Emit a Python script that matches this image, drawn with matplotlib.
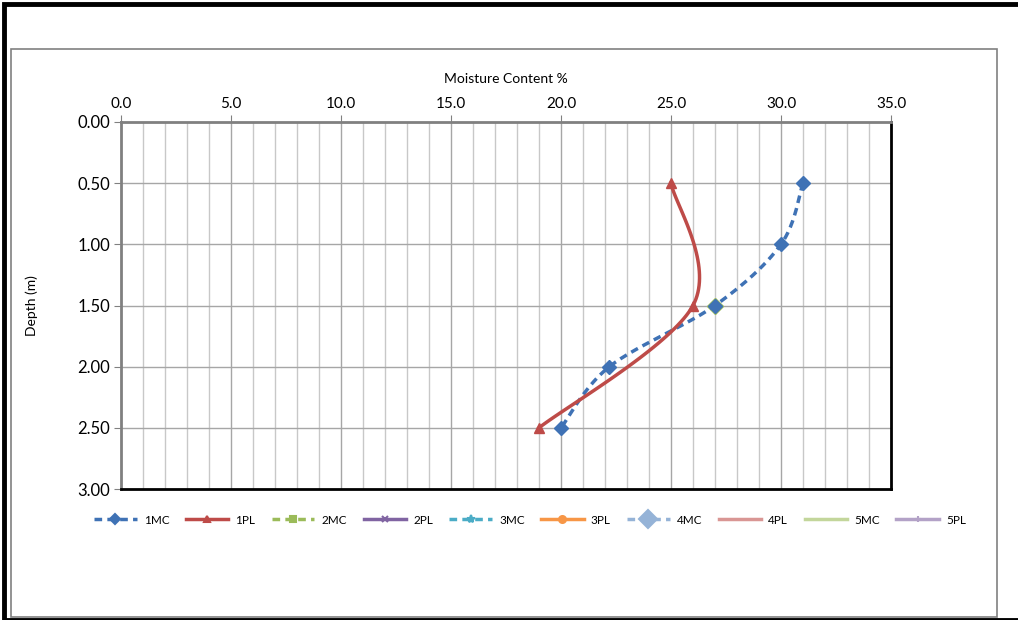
import numpy as np
import matplotlib
matplotlib.use("Agg")
import matplotlib.pyplot as plt
from matplotlib.patches import Rectangle

plt.rcParams['font.family'] = ['Lato', 'DejaVu Sans']

# data
mc1_x = [31.0, 30.0, 27.0, 22.2, 20.0]
mc1_depth = [0.5, 1.0, 1.5, 2.0, 2.5]
pl1_x = [25.0, 26.0, 19.0]
pl1_depth = [0.5, 1.5, 2.5]
mc2_x = [27.0]
mc2_depth = [1.5]

x_ticks = [0, 5, 10, 15, 20, 25, 30, 35]
y_ticks = [0, 0.5, 1.0, 1.5, 2.0, 2.5, 3.0]


def smooth(ax, xs, ys, n=40):
    # excel-like smoothing: catmull-rom in pixel space
    pts = ax.transData.transform(np.column_stack([xs, ys]))
    if len(pts) < 3:
        return xs, ys
    p = np.vstack([pts[0], pts, pts[-1]])
    out = []
    for i in range(1, len(p) - 2):
        p0, p1, p2, p3 = p[i - 1], p[i], p[i + 1], p[i + 2]
        c1 = p1 + (p2 - p0) / 6
        c2 = p2 - (p3 - p1) / 6
        t = np.linspace(0, 1, n)[:, None]
        seg = ((1 - t) ** 3) * p1 + 3 * ((1 - t) ** 2) * t * c1 + 3 * (1 - t) * t ** 2 * c2 + t ** 3 * p2
        out.append(seg if i == 1 else seg[1:])
    out = np.vstack(out)
    d = ax.transData.inverted().transform(out)
    return d[:, 0], d[:, 1]


fig = plt.figure(figsize=(10.18, 6.2), dpi=100)

# outer frames
fig.patches.append(Rectangle((4 / 1018, 0), 1.2, 1 - 4 / 620, transform=fig.transFigure,
                             fill=False, edgecolor='black', linewidth=3.5))
fig.patches.append(Rectangle((11 / 1018, 3 / 620), 986 / 1018, 568 / 620, transform=fig.transFigure,
                             fill=False, edgecolor='#808080', linewidth=1.2))

ax = fig.add_axes([121 / 1018, 1 - 489 / 620, 770 / 1018, 367 / 620])
ax.set_xlim(0, 35)
ax.set_ylim(3, 0)

# grid
for v in np.arange(1, 35, 1):
    c = '#a6a6a6' if v % 5 == 0 else '#c8c8c8'
    ax.axvline(v, color=c, linewidth=1.0, zorder=0)
for v in y_ticks[1:-1]:
    ax.axhline(v, color='#a6a6a6', linewidth=1.0, zorder=0)

ax.xaxis.tick_top()
ax.xaxis.set_label_position('top')
ax.set_xticks(x_ticks)
ax.set_xticklabels([f"{v:.1f}" for v in x_ticks], fontsize=11)
ax.set_yticks(y_ticks)
ax.set_yticklabels([f"{v:.2f}" for v in y_ticks], fontsize=12)
ax.tick_params(axis='both', direction='out', length=5, color='#808080', pad=3)
ax.set_xlabel("Moisture Content %", fontsize=10, labelpad=10)
ax.set_ylabel("Depth (m)", fontsize=10, labelpad=28)

for side in ['top', 'left']:
    ax.spines[side].set_color('#808080')
    ax.spines[side].set_linewidth(2)
for side in ['bottom', 'right']:
    ax.spines[side].set_color('black')
    ax.spines[side].set_linewidth(2)

sx, sy = smooth(ax, mc1_x, mc1_depth)
px, py = smooth(ax, pl1_x, pl1_depth)

ax.plot(mc2_x, mc2_depth, color='#9BBB59', linestyle='none', marker='D', markersize=8,
        markerfacecolor='#9BBB59', zorder=3)
ax.plot(sx, sy, color='#3F72B5', linestyle=(0, (2.2, 1.5)), linewidth=2.5, zorder=4)
ax.plot(mc1_x, mc1_depth, color='#3F72B5', linestyle='none', marker='D', markersize=7, zorder=5)
ax.plot(px, py, color='#BE4B48', linewidth=2.5, zorder=4)
ax.plot(pl1_x, pl1_depth, color='#BE4B48', linestyle='none', marker='^', markersize=7, zorder=5)

# legend handles
series = [
    ("1MC", '#3F72B5', (0, (2.2, 1.5)), 'D', 5),
    ("1PL", '#BE4B48', '-', '^', 5),
    ("2MC", '#9BBB59', (0, (2.2, 1.5)), 's', 5),
    ("2PL", '#8064A2', '-', 'x', 5),
    ("3MC", '#4BACC6', (0, (2.2, 1.5)), '*', 6),
    ("3PL", '#F79646', '-', 'o', 5),
    ("4MC", '#95B3D7', (0, (2.2, 1.5)), 'D', 9),
    ("4PL", '#D99694', '-', '', 0),
    ("5MC", '#C3D69B', '-', '', 0),
    ("5PL", '#B3A2C7', '-', '+', 5),
]
handles = []
for name, col, ls, mk, ms in series:
    h, = ax.plot([], [], color=col, linestyle=ls, linewidth=2.5, marker=mk, markersize=ms,
                 markeredgewidth=1.5, label=name)
    handles.append(h)

fig.legend(handles=handles, loc='center', bbox_to_anchor=(530 / 1018, 1 - 520 / 620), ncol=10,
           frameon=False, fontsize=8.5, handlelength=3.6, columnspacing=1.4, handletextpad=0.6)

fig.savefig("out.png", dpi=100)
